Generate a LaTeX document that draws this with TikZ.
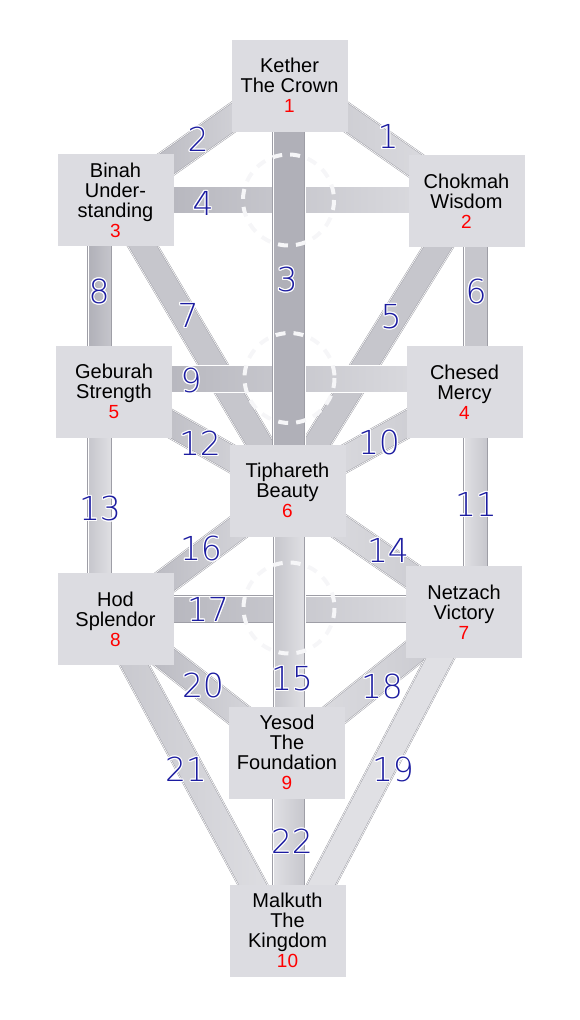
\documentclass[tikz,border=0pt]{standalone}
\usepackage{fontspec}
\setmainfont{Liberation Sans}
\newfontfamily\lblfont{DejaVu Sans ExtraLight}
\usepackage[copies]{contour}
\contourlength{1.1pt}
\contournumber{12}
\usetikzlibrary{calc}
\definecolor{boxfill}{RGB}{220,220,225}
\definecolor{bd}{RGB}{176,176,184}
\definecolor{bm}{RGB}{198,198,204}
\definecolor{bl}{RGB}{224,224,228}
\definecolor{barline}{RGB}{158,158,166}
\definecolor{lblue}{RGB}{28,28,160}
\definecolor{ringc}{RGB}{246,246,248}
\pgfdeclarelayer{bars}
\pgfdeclarelayer{rings}
\pgfsetlayers{bars,rings,main}
\tikzset{
  sefira/.style={fill=boxfill, minimum width=116pt, minimum height=92pt, inner sep=0pt,
    align=center, font=\fontsize{20}{20}\selectfont},
  barbox/.style={rectangle, draw=barline, line width=0.5pt, double=white, double distance=0.6pt, inner sep=0pt},
  lbl/.style={font=\lblfont\fontsize{33}{33}\selectfont, text=lblue, inner sep=0pt},
  ring/.style={draw=ringc, line width=4pt, dash pattern=on 10pt off 8pt},
}
\newcommand\num[1]{\textcolor{red}{\fontsize{19}{20}\selectfont #1}}
\newcommand\lab[1]{\contour{white}{#1}}
\newcommand\tbar[5]{%
  \path let \p1=#3, \p2=#4, \n1={atan2(\y2-\y1,\x2-\x1)}, \n2={veclen(\x2-\x1,\y2-\y1)} in
    node[barbox,#2,minimum width=\n2,minimum height=#5,rotate=\n1] (#1)
      at ({0.5*\x1+0.5*\x2},{0.5*\y1+0.5*\y2}) {};}
\begin{document}
\begin{tikzpicture}[x=1pt,y=-1pt]
\useasboundingbox (0,0) rectangle (579,1020);
% sephiroth
\node[sefira] (K)  at (289.5,85.5) {Kether\\The Crown\\\num{1}};
\node[sefira] (B)  at (115.5,200)  {Binah\\Under-\\standing\\\num{3}};
\node[sefira] (C)  at (466.5,201)  {Chokmah\\Wisdom\\\num{2}};
\node[sefira] (G)  at (114,391.5)  {Geburah\\Strength\\\num{5}};
\node[sefira] (Ch) at (464.5,392)  {Chesed\\Mercy\\\num{4}};
\node[sefira] (T)  at (287.5,490.5){Tiphareth\\Beauty\\\num{6}};
\node[sefira] (H)  at (115.5,619)  {Hod\\Splendor\\\num{8}};
\node[sefira] (N)  at (464,612)    {Netzach\\Victory\\\num{7}};
\node[sefira] (Y)  at (287,752.5)  {Yesod\\The\\Foundation\\\num{9}};
\node[sefira] (M)  at (287.5,930.5){Malkuth\\The\\Kingdom\\\num{10}};
% paths
\begin{pgfonlayer}{bars}
% diagonals
\tbar{p1}{left color=bm,right color=bl}{($(K)+(0,-8)$)}{(C)}{26}
\tbar{p2}{left color=bd,right color=bl}{($(K)+(0,-8)$)}{(B)}{26}
\tbar{p5}{left color=bm,right color=bm}{(C)}{(T)}{26}
\tbar{p7}{left color=bm,right color=bm}{(B)}{(T)}{26}
\tbar{p10}{left color=bl,right color=bm}{(Ch)}{(T)}{26}
\tbar{p12}{left color=bd,right color=bl}{(G)}{(T)}{26}
\tbar{p14}{left color=bl,right color=bm}{(T)}{(N)}{26}
\tbar{p16}{left color=bd,right color=bl}{(H)}{(T)}{26}
\tbar{p18}{left color=bl,right color=bm}{(N)}{(Y)}{26}
\tbar{p20}{left color=bd,right color=bl}{(H)}{(Y)}{26}
\tbar{p19}{left color=bl,right color=bl}{(N)}{($(M)+(10,0)$)}{26}
\tbar{p21}{left color=bm,right color=bl}{($(H)+(-6,0)$)}{($(M)+(-10,0)$)}{26}
% horizontals
\tbar{p4}{left color=bd,right color=bl}{(B)}{($(C)+(0,-1)$)}{27}
\tbar{p9}{left color=bd,right color=bl}{($(G)+(0,-12.5)$)}{($(Ch)+(0,-13)$)}{27}
\tbar{p17}{left color=bd,right color=bl}{($(H)+(0,-9.5)$)}{($(N)+(0,-2.5)$)}{27}
% verticals
\tbar{p8}{left color=bd,right color=bm}{($(B)+(-15.5,0)$)}{($(G)+(-14,0)$)}{24}
\tbar{p13}{left color=bm,right color=bl}{($(G)+(-14,0)$)}{($(H)+(-15.5,0)$)}{24}
\tbar{p6}{left color=bm,right color=bm}{($(C)+(9.5,0)$)}{($(Ch)+(11.5,0)$)}{24}
\tbar{p11}{left color=bl,right color=bm}{($(Ch)+(11.5,0)$)}{($(N)+(12,0)$)}{24}
\tbar{p3}{left color=bd,right color=bd}{($(K)+(-0.5,0)$)}{($(T)+(1.5,0)$)}{32}
\tbar{p15}{left color=bm,right color=bl}{($(T)+(2,0)$)}{($(Y)+(2.5,0)$)}{31}
\tbar{p22}{left color=bl,right color=bm}{($(Y)+(2,0)$)}{($(M)+(1.5,0)$)}{32}
\end{pgfonlayer}
% crossing rings
\begin{pgfonlayer}{rings}
\draw[ring] (288.5,200) circle[radius=45.5];
\draw[ring] (289.5,378) circle[radius=45];
\draw[ring] (289,608) circle[radius=45.5];
\end{pgfonlayer}
% path numbers
\node[lbl] (l1)  at (388,137) {\lab{1}};
\node[lbl] (l2)  at (198,140) {\lab{2}};
\node[lbl] (l3)  at (287,280) {\lab{3}};
\node[lbl] (l4)  at (203,204) {\lab{4}};
\node[lbl] (l5)  at (391,317) {\lab{5}};
\node[lbl] (l6)  at (476,292) {\lab{6}};
\node[lbl] (l7)  at (188,316) {\lab{7}};
\node[lbl] (l8)  at (99,292)  {\lab{8}};
\node[lbl] (l9)  at (191,381) {\lab{9}};
\node[lbl] (l10) at (379,443) {\lab{10}};
\node[lbl] (l11) at (476,505) {\lab{11}};
\node[lbl] (l12) at (200,444) {\lab{12}};
\node[lbl] (l13) at (100,509) {\lab{13}};
\node[lbl] (l14) at (388,551) {\lab{14}};
\node[lbl] (l15) at (292,679) {\lab{15}};
\node[lbl] (l16) at (201,549) {\lab{16}};
\node[lbl] (l17) at (208,610) {\lab{17}};
\node[lbl] (l18) at (382,687) {\lab{18}};
\node[lbl] (l19) at (393,770) {\lab{19}};
\node[lbl] (l20) at (203,686) {\lab{20}};
\node[lbl] (l21) at (186,770) {\lab{21}};
\node[lbl] (l22) at (292,842) {\lab{22}};
\end{tikzpicture}
\end{document}
